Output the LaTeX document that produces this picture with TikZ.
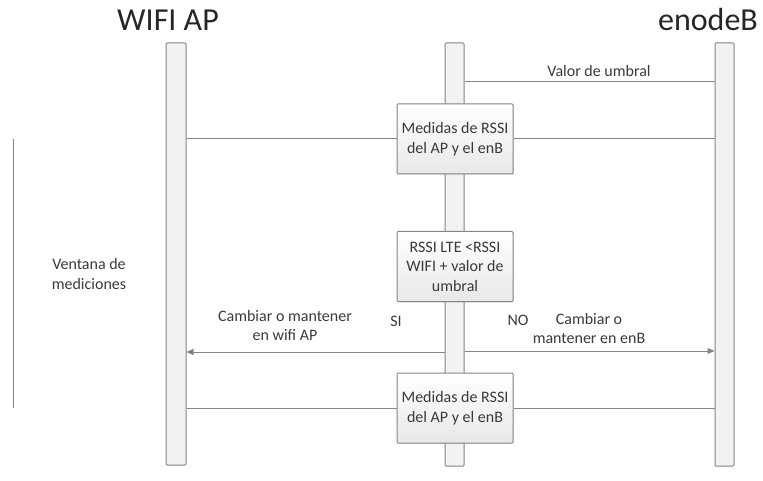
\documentclass[tikz,border=0pt]{standalone}
\usepackage{fontspec}
\setmainfont{Carlito}
\usetikzlibrary{arrows.meta,shadows}
\definecolor{ln}{HTML}{858585}
\definecolor{txt}{HTML}{3A3A3A}
\definecolor{barfill}{HTML}{F2F2F2}
\tikzset{
  lifebar/.style={draw=ln, fill=barfill, line width=1pt, rounded corners=1pt},
  procbox/.style={draw=ln, line width=1pt, top color=white, bottom color=gray!18, rounded corners=1pt,
     minimum width=116pt, minimum height=70pt, align=center, text=txt, inner sep=1pt,
     font=\fontsize{16}{19.5}\selectfont,
     drop shadow={opacity=0.15, shadow xshift=1pt, shadow yshift=-1pt}},
  msg/.style={draw=ln, line width=1pt},
  lbl/.style={text=txt, font=\fontsize{16}{19.5}\selectfont, align=center},
  title/.style={text=black!85, font=\fontsize{32}{34}\selectfont},
  arr/.style={-{Triangle[length=7pt,width=6pt]}}
}
\begin{document}
\begin{tikzpicture}[x=1pt,y=-1pt]
\useasboundingbox (0,0) rectangle (763,481);
% titles
\node[title] (tA) at (168,20) {WIFI AP};
\node[title] (tB) at (708,20) {enodeB};
% lifelines
\node[lifebar, minimum width=20pt, minimum height=422pt, inner sep=0pt] (A) at (176,254) {};
\node[lifebar, minimum width=19pt, minimum height=423pt, inner sep=0pt] (M) at (454.5,254.5) {};
\node[lifebar, minimum width=19pt, minimum height=423pt, inner sep=0pt] (B) at (724.5,254.5) {};
% message: valor de umbral
\coordinate (v1) at (M.east |- 0,82);
\coordinate (v2) at (B.west |- 0,82);
\draw[msg] (v1) -- (v2);
\node[lbl] (lv) at (599,71) {Valor de umbral};
% box 1
\node[procbox] (b1) at (455,139) {Medidas de RSSI\\del AP y el enB};
\draw[msg] (A.east |- b1.west) -- (b1.west);
\draw[msg] (b1.east) -- (B.west |- b1.east);
% box 2
\node[procbox] (b2) at (455,266.5) {RSSI LTE <RSSI\\WIFI + valor de\\umbral};
% decision arrows
\coordinate (l1) at (M.west |- 0,352);
\coordinate (l2) at (A.east |- 0,352);
\draw[msg,arr,ln] (l1) -- (l2);
\coordinate (r1) at (M.east |- 0,351);
\coordinate (r2) at (B.west |- 0,351);
\draw[msg,arr,ln] (r1) -- (r2);
\node[lbl] (lsi) at (396,321) {SI};
\node[lbl] (lno) at (518,320) {NO};
\node[lbl] (lwifi) at (285,325.5) {Cambiar o mantener\\en wifi AP};
\node[lbl] (lenb) at (589,328.5) {Cambiar o\\mantener en enB};
% box 3
\node[procbox] (b3) at (455,408) {Medidas de RSSI\\del AP y el enB};
\draw[msg] (A.east |- b3.west) -- (b3.west);
\draw[msg] (b3.east) -- (B.west |- b3.east);
% measurement window
\coordinate (w1) at (13,139);
\coordinate (w2) at (13,408);
\draw[msg] (w1) -- (w2);
\node[lbl] (lw) at (89,274) {Ventana de\\mediciones};
\end{tikzpicture}
\end{document}
